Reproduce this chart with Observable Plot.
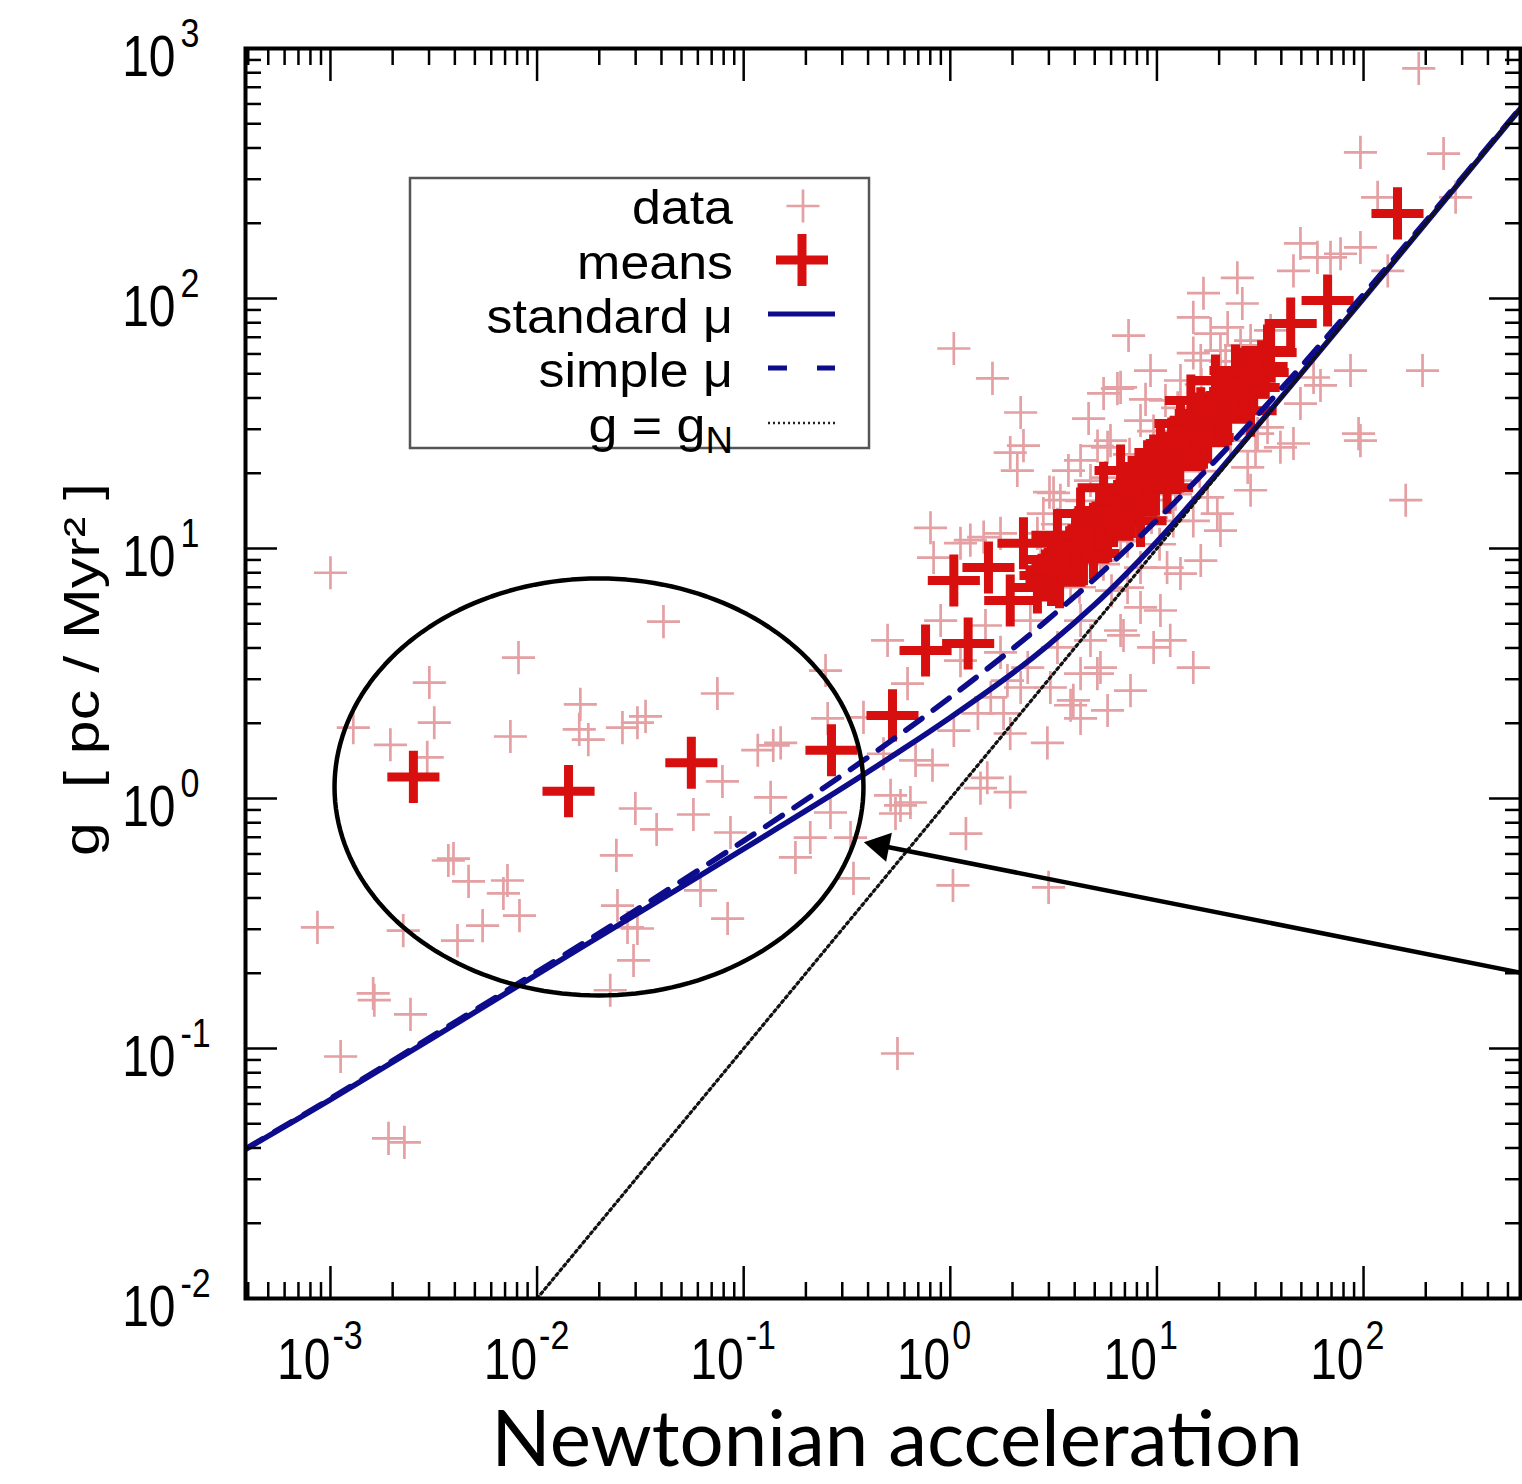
<!DOCTYPE html>
<html>
<head>
<meta charset="utf-8">
<script src="https://cdn.jsdelivr.net/npm/d3@7"></script>
<script src="https://cdn.jsdelivr.net/npm/@observablehq/plot@0.6"></script>
<style>
  html, body { margin: 0; padding: 0; background: #ffffff; }
  #chart { width: 1522px; height: 1484px; overflow: hidden; }
  #chart svg { display: block; }
</style>
</head>
<body>
<div id="chart"></div>
<script>
// ---------------- data ----------------
// individual measurements ("data"): Newtonian acceleration gN and observed g, pc/Myr^2
const dataX = [
  0.001, 0.0409, 0.00813, 0.00301, 0.00318, 0.00129, 0.00195, 0.00294, 0.00743, 0.0162,
  0.016, 0.0177, 0.0259, 0.0306, 0.0335, 0.0746, 0.0789, 0.0299, 0.0379, 0.0571,
  0.0863, 0.0242, 0.00372, 0.00394, 0.00466, 0.00719, 0.00687, 0.00822, 0.000865, 0.00225,
  0.00412, 0.00545, 0.0245, 0.0274, 0.0306, 0.0293, 0.0618, 0.0836, 0.0226, 0.00161,
  0.117, 0.00163, 0.00244, 0.00112, 0.00191, 0.00228,
  0.249, 0.139, 0.151, 0.135, 0.255, 0.263, 0.329, 0.178, 0.21, 0.34,
  0.475, 0.514, 0.574, 0.641, 0.543, 0.82, 0.679, 1.04, 1.19, 1.03,
  2.99, 2.95, 1.4, 1.95, 1.51, 5.77, 3.82, 4.27, 6.89, 5.15,
  0.555, 0.497, 0.621, 0.38, 1.81, 2.19,
  185, 96.6, 244, 279, 117, 49.5, 59.8, 69.2, 77.4, 96.6,
  131, 45.8, 24.5, 16.8, 25.9, 15.0, 18.2, 7.29, 9.31, 6.44,
  86.5, 193, 57.3, 49.5, 94.6, 96.6, 39.6, 34.3, 28.4, 22.0,
  160, 61.9,
  45.8, 30.7, 28.4, 27.5, 19.6, 15.0, 13.0, 11.2, 8.33, 9.64,
  15.0, 6.67, 5.33, 4.27, 3.94, 1.95, 1.36, 1.45, 1.12, 7.21,
  12.0, 8.33, 4.27, 3.30, 2.37, 1.89, 1.57, 3.05, 1.04, 1.60,
  2.19, 1.95, 2.26, 2.11,
  6.67, 5.52, 4.67, 5.77, 4.27, 3.73, 3.16, 0.802, 0.830, 1.25,
  1.75, 2.82, 2.64, 0.898, 1.48, 1.75, 1.12, 2.44, 3.41, 4.77,
  5.96, 8.33, 11.0, 13.0, 16.3, 20.3, 25.4, 35.5, 9.31, 12.3,
  16.3, 22.7, 6.67, 5.33, 3.82, 2.74, 16.3, 20.3, 10.4, 7.45,
  11.6, 4.77,
  3.30, 4.32, 5.64, 7.37, 9.63, 12.6, 16.4, 21.5,
  4.22, 5.51, 7.21, 9.42, 12.3, 16.1,
  3.02, 5.16, 8.81, 15.0, 6.03, 10.3, 17.6, 30.0
];
const dataY = [
  8.0, 5.1, 3.66, 2.91, 2.01, 1.92, 1.64, 1.46, 1.77, 2.38,
  1.89, 1.72, 1.92, 2.01, 2.13, 2.63, 1.17, 0.912, 0.752, 0.863,
  0.731, 0.592, 0.565, 0.575, 0.466, 0.47, 0.417, 0.34, 0.305, 0.296,
  0.27, 0.31, 0.373, 0.305, 0.302, 0.225, 0.429, 0.331, 0.171, 0.166,
  1.56, 0.156, 0.137, 0.0929, 0.0437, 0.0421,
  3.25, 1.63, 1.67, 1.01, 2.09, 0.879, 0.698, 0.581, 0.698, 0.479,
  1.51, 1.03, 0.938, 0.964, 0.871, 1.36, 1.42, 1.87, 0.724, 0.449,
  0.441, 1.67, 1.10, 1.06, 1.21, 2.25, 2.36, 2.09, 4.49, 3.16,
  0.0955, 4.29, 2.88, 2.11, 2.19, 2.78,
  832, 384, 380, 254, 254, 166, 146, 146, 151, 160,
  129, 129, 121, 105, 95.5, 84, 72.4, 71.1, 51.5, 43.6,
  51.5, 51.5, 48.3, 38.0, 28.8, 27.0, 25.4, 30.5, 67.9, 76.6,
  15.6, 44.9,
  26.3, 28.8, 17.1, 21.1, 13.8, 12.9, 7.94, 8.39, 5.81, 4.02,
  3.34, 4.70, 3.34, 3.16, 2.47, 1.82, 2.19, 11.1, 10.5, 6.98,
  12.9, 8.39, 5.15, 4.02, 3.34, 2.96, 2.54, 2.78, 63.1, 47.9,
  35.0, 24.2, 25.8, 20.5,
  44.1, 41.7, 33.1, 25.4, 22.5, 20.5, 16.7, 12.1, 9.20, 10.8,
  11.5, 13.8, 11.5, 5.15, 4.92, 3.84, 3.56, 5.15, 15.6, 18.7,
  27.0, 32.5, 39.1, 47.0, 56.5, 61.9, 64.9, 74.5, 15.6, 18.7,
  22.5, 27.0, 10.8, 8.95, 7.45, 8.95, 8.95, 11.8, 5.65, 2.70,
  4.29, 4.29,
  12.5, 15.5, 19.2, 23.8, 29.5, 36.5, 45.3, 56.0,
  7.00, 8.66, 10.7, 13.3, 16.5, 20.4,
  16.8, 25.7, 39.5, 60.5, 6.78, 10.4, 16.0, 24.5
];

// binned means
const meanX = [
  0.00252, 0.0142, 0.0558, 0.266, 0.525, 0.759, 1.22, 1.04, 1.53, 1.95,
  2.64, 2.26, 3.30, 4.27, 4.27, 4.93, 6.17, 5.52, 6.67, 7.71,
  8.33, 9.00, 9.64, 11.2, 12.0, 13.0, 16.3, 17.6, 21.0, 25.4,
  29.4, 14.6, 19.2, 24.0, 32.5, 44.4, 67.0, 146, 5.33, 13.7,
  20.3, 28.4, 3.41, 7.05, 10.4, 35.5,
  2.89, 3.30, 3.78, 4.32, 4.93, 5.64, 6.45, 7.37, 8.42, 9.63,
  11.0, 12.6, 14.4, 16.4, 18.8, 21.5, 24.6, 28.1, 32.1,
  3.09, 4.04, 5.28, 6.89, 9.01, 11.8, 15.4, 20.1, 26.3, 34.3,
  3.09, 4.04, 5.28, 6.89, 9.01, 11.8, 15.4, 20.1, 26.3,
  3.38, 4.41, 5.77, 7.53, 9.84, 12.9, 16.8, 22.0,
  3.09, 3.53, 4.04, 4.62, 5.28, 6.03, 6.89, 7.88, 9.01, 10.3,
  11.8, 13.5, 15.4, 17.6, 20.1, 23.0, 26.3, 30.0
];
const meanY = [
  1.22, 1.07, 1.39, 1.56, 2.15, 3.91, 4.17, 7.45, 8.39, 6.19,
  6.98, 10.5, 11.3, 11.1, 13.8, 9.55, 12.9, 17.5, 20.5, 17.1,
  12.9, 18.7, 22.5, 17.5, 25.4, 31.6, 34.7, 27.8, 39.1, 41.7,
  44.1, 39.1, 47.0, 51.5, 50.6, 79.4, 98.2, 219, 14.2, 27.0,
  34.0, 35.6, 8.95, 15.6, 24.2, 60.8,
  7.80, 8.68, 9.66, 10.7, 12.0, 13.3, 14.8, 16.5, 18.3, 20.4,
  22.7, 25.3, 28.1, 31.3, 34.8, 38.8, 43.1, 48.0, 53.5,
  9.04, 11.2, 13.9, 17.2, 21.3, 26.3, 32.6, 40.4, 50.0, 61.9,
  7.49, 9.27, 11.5, 14.2, 17.6, 21.8, 27.0, 33.4, 41.4,
  7.33, 9.07, 11.2, 14.0, 17.2, 21.3, 26.5, 32.9,
  8.23, 9.15, 10.2, 11.3, 12.6, 14.1, 15.6, 17.4, 19.4, 21.5,
  24.0, 26.7, 29.7, 33.1, 36.8, 40.9, 45.6, 50.7
];

// model curves, points
const curveX    = [3.88e-4, 0.001, 0.003, 0.01, 0.03, 0.1, 0.3, 0.6, 1, 2, 3, 5, 7, 10, 15, 20, 30, 50, 100, 200, 575];
const standardY = [0.0395, 0.0625, 0.108, 0.198, 0.343, 0.629, 1.10, 1.59, 2.11, 3.17, 4.13, 5.97, 7.82, 10.65, 15.5, 20.4, 30.3, 50.2, 100, 200, 575];
const simpleY   = [0.0397, 0.0630, 0.110, 0.2025, 0.357, 0.677, 1.24, 1.86, 2.54, 3.97, 5.24, 7.57, 9.79, 13.0, 18.2, 23.3, 33.5, 53.6, 103.8, 203.8, 579];
const newtonX   = [0.01, 575];
const newtonY   = [0.01, 575];

// axes
const xTicks   = [1e-3, 1e-2, 1e-1, 1, 10, 100];
const xTickExp = ["-3", "-2", "-1", "0", "1", "2"];
const yTicks   = [1e-2, 1e-1, 1, 10, 100, 1000];
const yTickExp = ["-2", "-1", "0", "1", "2", "3"];
const xLabel = "Newtonian acceleration";
const yLabel = "g  [ pc / Myr\u00B2 ]";
const legendLabels = ["data", "means", "standard \u03BC", "simple \u03BC", "g = g"];

// annotation: ellipse (centre, half-axes in decades) and arrow (tail -> tip)
const ellipseCenter = [0.01994, 1.112];
const ellipseHalfAxesDecades = [1.280, 0.834];
const arrowTail = [588, 0.2004];
const arrowTip  = [0.3814, 0.6685];

// ---------------- drawing ----------------
const FONT = '"Liberation Sans", Arial, Helvetica, sans-serif';
const xDomain = [3.88e-4, 575];
const yDomain = [0.01, 1000];
const rows = (xs, ys) => xs.map((x, i) => ({x, y: ys[i]}));

function minors(domain) {
  const lo = Math.floor(Math.log10(domain[0])), hi = Math.ceil(Math.log10(domain[1]));
  const out = [];
  for (let e = lo; e < hi; e++) for (let m = 2; m <= 9; m++) {
    const v = m * Math.pow(10, e);
    if (v > domain[0] && v < domain[1]) out.push(v);
  }
  return out;
}
const xMinor = minors(xDomain);
const yMinor = minors(yDomain);

const ellipsePts = d3.range(0, 361, 2).map(a => {
  const t = a * Math.PI / 180;
  return {
    x: ellipseCenter[0] * Math.pow(10, ellipseHalfAxesDecades[0] * Math.cos(t)),
    y: ellipseCenter[1] * Math.pow(10, ellipseHalfAxesDecades[1] * Math.sin(t))
  };
});

const tickStyle = {stroke: "black", strokeWidth: 2.5, fill: "none"};
const NAVY = "#0c0c8c";
const PINK = "#e4a0a3";
const RED = "#d80f0f";

const chart = Plot.plot({
  width: 1522,
  height: 1484,
  marginLeft: 245,
  marginRight: 2,
  marginTop: 48,
  marginBottom: 186,
  style: {fontFamily: FONT, background: "white", overflow: "visible", color: "black"},
  x: {type: "log", domain: xDomain, axis: null},
  y: {type: "log", domain: yDomain, axis: null},
  marks: [
    Plot.dot(rows(dataX, dataY), {x: "x", y: "y", symbol: "plus", r: 10.7, stroke: PINK, strokeWidth: 2.7, fill: "none"}),
    Plot.dot(rows(meanX, meanY), {x: "x", y: "y", symbol: "plus", r: 16.8, stroke: RED, strokeWidth: 9, fill: "none"}),
    Plot.line(rows(curveX, standardY), {x: "x", y: "y", stroke: NAVY, strokeWidth: 5.5, curve: "catmull-rom", clip: true}),
    Plot.line(rows(curveX, simpleY), {x: "x", y: "y", stroke: NAVY, strokeWidth: 5.5, strokeDasharray: "20,14", curve: "catmull-rom", clip: true}),
    Plot.line(rows(newtonX, newtonY), {x: "x", y: "y", stroke: "#111", strokeWidth: 3.2, strokeDasharray: "2.5,3.5", clip: true}),
    // ticks on all four sides, pointing inward
    Plot.axisX(xTicks, {anchor: "bottom", tickSize: -32, ...tickStyle}),
    Plot.axisX(xTicks, {anchor: "top", tickSize: -32, ...tickStyle}),
    Plot.axisX(xMinor, {anchor: "bottom", tickSize: -16, ...tickStyle}),
    Plot.axisX(xMinor, {anchor: "top", tickSize: -16, ...tickStyle}),
    Plot.axisY(yTicks, {anchor: "left", tickSize: -32, ...tickStyle}),
    Plot.axisY(yTicks, {anchor: "right", tickSize: -32, ...tickStyle}),
    Plot.axisY(yMinor, {anchor: "left", tickSize: -16, ...tickStyle}),
    Plot.axisY(yMinor, {anchor: "right", tickSize: -16, ...tickStyle}),
    Plot.frame({stroke: "black", strokeWidth: 4}),
    // tick labels 10^n
    Plot.text(xTicks, {x: d => d, frameAnchor: "bottom", text: () => "10", textAnchor: "end", lineAnchor: "bottom", dy: 80, fontSize: 48, fill: "black"}),
    Plot.text(xTicks, {x: d => d, frameAnchor: "bottom", text: (d, i) => xTickExp[i], textAnchor: "start", lineAnchor: "bottom", dx: 2, dy: 50, fontSize: 34, fill: "black"}),
    Plot.text(yTicks, {y: d => d, frameAnchor: "left", text: () => "10", textAnchor: "end", lineAnchor: "bottom", dx: -70, dy: 27, fontSize: 48, fill: "black"}),
    Plot.text(yTicks, {y: d => d, frameAnchor: "left", text: (d, i) => yTickExp[i], textAnchor: "start", lineAnchor: "bottom", dx: -65, dy: -2, fontSize: 34, fill: "black"}),
    // axis titles
    Plot.text([yLabel], {frameAnchor: "left", text: d => d, rotate: -90, dx: -163, dy: -4, fontSize: 50, fill: "black", textAnchor: "middle", lineAnchor: "middle"}),
    Plot.text([xLabel], {frameAnchor: "bottom", text: d => d, dx: 14, dy: 167, fontSize: 78, fontFamily: "Lato, 'Open Sans', sans-serif", fill: "black", lineAnchor: "bottom"}),
    // annotation
    Plot.line(ellipsePts, {x: "x", y: "y", stroke: "black", strokeWidth: 4.5}),
    Plot.arrow([0], {x1: () => arrowTail[0], y1: () => arrowTail[1], x2: () => arrowTip[0], y2: () => arrowTip[1], stroke: "black", strokeWidth: 4.5, headLength: 0, insetEnd: 14}),
    Plot.dot([0], {x: () => arrowTip[0], y: () => arrowTip[1], symbol: "triangle", r: 11, fill: "black", stroke: "none", rotate: -78.76, dx: 16.8, dy: 3.3})
  ]
});

// stretch tick labels and the y title like the original raster
const svg = d3.select(chart);
const tickTexts = new Set(["10", ...xTickExp, ...yTickExp]);
svg.selectAll("text").each(function () {
  const s = this.textContent;
  const tr = this.getAttribute("transform") || "";
  if (s === yLabel) this.setAttribute("transform", tr + " scale(1.22,1)");
  else if (tickTexts.has(s)) this.setAttribute("transform", tr + " scale(1,1.2)");
});

// legend box inside the plot
const lg = svg.append("g").attr("font-family", FONT).attr("fill", "black");
lg.append("rect").attr("x", 410).attr("y", 178).attr("width", 459).attr("height", 270)
  .attr("fill", "white").attr("stroke", "#555").attr("stroke-width", 2.5);
const rowBase = [224, 279, 333, 387, 442];
const rowMid = [206, 260, 314, 368, 423];
legendLabels.forEach((lab, i) => {
  const t = lg.append("text").attr("transform", `translate(733,${rowBase[i]}) scale(1.06,1)`)
    .attr("text-anchor", "end").attr("font-size", 49);
  t.append("tspan").text(lab);
  if (i === 4) t.append("tspan").attr("dy", 11).attr("font-size", 36).text("N");
});
lg.append("path").attr("d", `M786.5,${rowMid[0]}h33M803,${rowMid[0] - 16.5}v33`).attr("stroke", PINK).attr("stroke-width", 2.7).attr("fill", "none");
lg.append("path").attr("d", `M776,${rowMid[1]}h52M802,${rowMid[1] - 26}v52`).attr("stroke", RED).attr("stroke-width", 9).attr("fill", "none");
lg.append("line").attr("x1", 768).attr("x2", 835).attr("y1", rowMid[2]).attr("y2", rowMid[2]).attr("stroke", NAVY).attr("stroke-width", 5);
lg.append("line").attr("x1", 768).attr("x2", 835).attr("y1", rowMid[3]).attr("y2", rowMid[3]).attr("stroke", NAVY).attr("stroke-width", 5).attr("stroke-dasharray", "19,30");
lg.append("line").attr("x1", 768).attr("x2", 835).attr("y1", rowMid[4]).attr("y2", rowMid[4]).attr("stroke", "#222").attr("stroke-width", 2.4).attr("stroke-dasharray", "2,3");

document.getElementById("chart").append(chart);
</script>
</body>
</html>
